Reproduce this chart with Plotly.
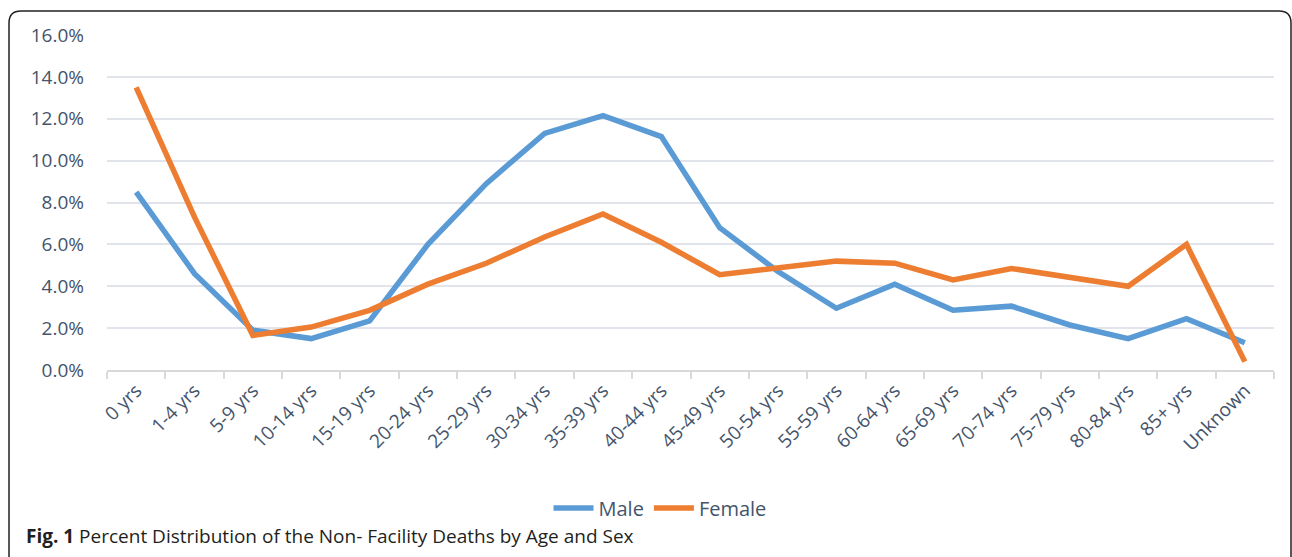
import plotly.graph_objects as go

categories = ["0 yrs", "1-4 yrs", "5-9 yrs", "10-14 yrs", "15-19 yrs", "20-24 yrs",
              "25-29 yrs", "30-34 yrs", "35-39 yrs", "40-44 yrs", "45-49 yrs",
              "50-54 yrs", "55-59 yrs", "60-64 yrs", "65-69 yrs", "70-74 yrs",
              "75-79 yrs", "80-84 yrs", "85+ yrs", "Unknown"]
male = [8.5, 4.6, 1.9, 1.5, 2.35, 6.0, 8.9, 11.3, 12.15, 11.15, 6.8, 4.7,
        2.95, 4.1, 2.85, 3.05, 2.15, 1.5, 2.45, 1.3]
female = [13.5, 7.3, 1.65, 2.05, 2.85, 4.1, 5.1, 6.35, 7.45, 6.1, 4.55, 4.85,
          5.2, 5.1, 4.3, 4.85, 4.4, 4.0, 6.0, 0.4]
y_ticks = [0, 2, 4, 6, 8, 10, 12, 14, 16]
y_labels = ["0.0%", "2.0%", "4.0%", "6.0%", "8.0%", "10.0%", "12.0%", "14.0%", "16.0%"]

W, H = 1292, 557
L, R, T, B = 107, 18, 35, 187
pw, ph = W - L - R, H - T - B

def px(x):
    return (x - L) / pw

def py(y):
    return (H - B - y) / ph

fig = go.Figure()
fig.add_trace(go.Scatter(x=categories, y=male, mode="lines", name="Male",
                         line=dict(color="#5B9BD5", width=5.5)))
fig.add_trace(go.Scatter(x=categories, y=female, mode="lines", name="Female",
                         line=dict(color="#ED7D31", width=5.5)))

tick_font = dict(family="Open Sans", size=19, color="#44546A")

fig.update_layout(
    width=W, height=H,
    margin=dict(l=L, r=R, t=T, b=B),
    paper_bgcolor="white", plot_bgcolor="white",
    showlegend=True,
    legend=dict(orientation="h", x=px(660), xanchor="center", y=py(508), yanchor="middle",
                font=dict(family="Open Sans", size=20, color="#44546A"),
                bgcolor="rgba(0,0,0,0)", itemwidth=40, tracegroupgap=0),
    xaxis=dict(type="category", range=[-0.5, len(categories) - 0.5],
               tickangle=-45, tickfont=tick_font, showgrid=False,
               showline=True, linecolor="#D9D9D9", linewidth=2,
               ticks="outside", tickson="boundaries", ticklen=7, tickcolor="#D9D9D9",
               tickwidth=2, zeroline=False),
    yaxis=dict(range=[0, 16], tickvals=y_ticks, ticktext=y_labels, tickfont=tick_font,
               showgrid=True, gridcolor="#E1E4EA", gridwidth=2, zeroline=False,
               showline=False, ticks="", ticklabelstandoff=22),
)

# rounded border frame
xl, xr = px(9), px(1291)
yt, yb = py(11), py(600)
rx, ry = 12 / pw, 12 / ph
path = (f"M {xl},{yb} L {xl},{yt - ry} Q {xl},{yt} {xl + rx},{yt} "
        f"L {xr - rx},{yt} Q {xr},{yt} {xr},{yt - ry} L {xr},{yb}")
fig.add_shape(type="path", path=path, xref="paper", yref="paper",
              line=dict(color="#222222", width=1.5))

fig.add_annotation(
    text="<b>Fig. 1</b> Percent Distribution of the Non- Facility Deaths by Age and Sex",
    xref="paper", yref="paper", x=px(24), y=py(536), xanchor="left", yanchor="middle",
    showarrow=False, font=dict(family="Open Sans", size=19, color="#231F20"))

fig.write_html("out.html", config={"displayModeBar": False},
               post_script="document.body.style.margin='0';")
